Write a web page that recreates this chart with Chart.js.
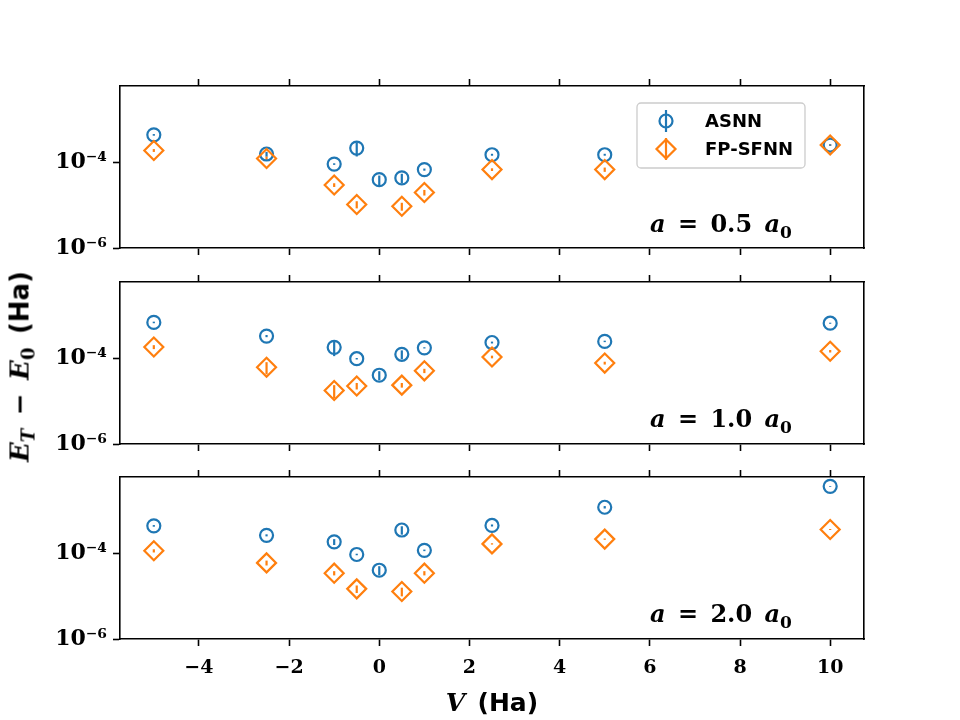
<!DOCTYPE html>
<html>
<head>
<meta charset="utf-8">
<script src="https://cdn.jsdelivr.net/npm/chart.js@4.4.1/dist/chart.umd.min.js"></script>
<style>
body { margin: 0; background: #fff; width: 960px; height: 720px; position: relative; overflow: hidden; }
.panel { position: absolute; left: 0; width: 960px; }
.note { position: absolute; left: 650px; font-family: "DejaVu Serif"; font-weight: bold; font-size: 24px; line-height: 30px; word-spacing: 4px; white-space: nowrap; color: #000; }
.note sub { font-size: 17px; vertical-align: -6px; font-style: normal; }
.xtitle { position: absolute; left: 120px; width: 744px; top: 688px; line-height: 30px; text-align: center; font-size: 25px; font-weight: bold; color: #000; word-spacing: 6px; }
.ytitle { position: absolute; left: -106px; top: 347px; width: 260px; line-height: 30px; text-align: center; font-size: 26px; font-weight: bold; color: #000; transform: rotate(-90deg); white-space: nowrap; word-spacing: 7px; }
.serif { font-family: "DejaVu Serif"; font-style: italic; }
.sans { font-family: "DejaVu Sans"; }
.ytitle sub { font-size: 18px; vertical-align: -6px; }
.ytitle sub.up { font-style: normal; }
</style>
</head>
<body>
<div class="panel" style="top:0;height:280px"><canvas id="c1"></canvas></div>
<div class="panel" style="top:260px;height:214px"><canvas id="c2"></canvas></div>
<div class="panel" style="top:455px;height:265px"><canvas id="c3"></canvas></div>

<div class="note" style="top:209px"><i>a</i> = 0.5 <i>a</i><sub>0</sub></div>
<div class="note" style="top:404px"><i>a</i> = 1.0 <i>a</i><sub>0</sub></div>
<div class="note" style="top:599px"><i>a</i> = 2.0 <i>a</i><sub>0</sub></div>

<div class="xtitle"><span class="serif">V</span> <span class="sans">(Ha)</span></div>
<div class="ytitle"><span class="serif">E<sub>T</sub></span> <span style="font-family:'DejaVu Serif'">−</span> <span class="serif">E<sub class="up">0</sub></span> <span class="sans">(Ha)</span></div>

<script>
// potential strengths V (Ha)
const vValues = [-5, -2.5, -1, -0.5, 0, 0.5, 1, 2.5, 5, 10];

// a = 0.5 a0
const asnnA05 = [4.5e-4, 1.6e-4, 9.3e-5, 2.2e-4, 4.0e-5, 4.4e-5, 6.9e-5, 1.54e-4, 1.54e-4, 2.6e-4];
const asnnA05Err = [2e-5, 2e-5, 4e-6, 8e-5, 1e-5, 1.1e-5, 4e-6, 8e-6, 8e-6, 1e-5];
const fpA05 = [1.94e-4, 1.26e-4, 3.0e-5, 1.05e-5, null, 9.5e-6, 2.0e-5, 6.9e-5, 6.9e-5, 2.6e-4];
const fpA05Err = [1.5e-5, 1.5e-5, 3e-6, 2e-6, null, 2e-6, 3e-6, 5e-6, 8e-6, 1e-5];

// a = 1.0 a0
const asnnA10 = [7.1e-4, 3.4e-4, 1.85e-4, 1.0e-4, 4.1e-5, 1.27e-4, 1.8e-4, 2.4e-4, 2.55e-4, 6.8e-4];
const asnnA10Err = [3e-5, 2e-5, 7e-5, 4e-6, 1e-5, 3e-5, 6e-6, 1.2e-5, 1e-5, 2e-5];
const fpA10 = [1.88e-4, 6.3e-5, 1.8e-5, 2.3e-5, null, 2.4e-5, 5.2e-5, 1.1e-4, 7.9e-5, 1.5e-4];
const fpA10Err = [2e-5, 2e-5, 6e-6, 4e-6, null, 3e-6, 6e-6, 8e-6, 6e-6, 1e-5];

// a = 2.0 a0
const asnnA20 = [4.5e-4, 2.7e-4, 1.9e-4, 9.6e-5, 4.1e-5, 3.6e-4, 1.2e-4, 4.6e-4, 1.23e-3, 3.8e-3];
const asnnA20Err = [2e-5, 1.5e-5, 3e-5, 4e-6, 1e-5, 8e-5, 5e-6, 2.5e-5, 8e-5, 8e-5];
const fpA20 = [1.17e-4, 6.1e-5, 3.5e-5, 1.5e-5, null, 1.3e-5, 3.5e-5, 1.7e-4, 2.2e-4, 3.7e-4];
const fpA20Err = [1e-5, 8e-6, 4e-6, 3e-6, null, 3e-6, 4e-6, 6e-6, 8e-6, 1e-5];

const xTicks = [-4, -2, 0, 2, 4, 6, 8, 10];
const xTickLabels = ['−4', '−2', '0', '2', '4', '6', '8', '10'];
const yTicks = [1e-6, 1e-4];
const yTickLabels = ['10⁻⁶', '10⁻⁴'];
const seriesNames = ['ASNN', 'FP-SFNN'];

const BLUE = '#1f77b4', ORANGE = '#ff7f0e';
const xTickFont = { family: 'DejaVu Serif', weight: 'bold', size: 19 };
const yTickFont = { family: 'DejaVu Serif', weight: 'bold', size: 22 };

// vertical error bars drawn through the y scale
const errorBars = {
  id: 'errorBars',
  beforeDatasetsDraw(chart) {
    const ctx = chart.ctx, ys = chart.scales.y;
    chart.data.datasets.forEach((ds, i) => {
      const meta = chart.getDatasetMeta(i);
      ctx.save();
      ctx.strokeStyle = ds.borderColor;
      ctx.lineWidth = 2.2;
      meta.data.forEach((pt, j) => {
        const v = ds.data[j].y, e = ds.errors[j];
        if (v == null || e == null || isNaN(pt.x)) return;
        ctx.beginPath();
        ctx.moveTo(pt.x, ys.getPixelForValue(Math.max(v - e, 1e-9)));
        ctx.lineTo(pt.x, ys.getPixelForValue(v + e));
        ctx.stroke();
      });
      ctx.restore();
    });
  }
};

// legend box inside the top panel
const insideLegend = {
  id: 'insideLegend',
  afterDraw(chart) {
    if (!chart.options.plugins.insideLegend || !chart.options.plugins.insideLegend.show) return;
    const ctx = chart.ctx, a = chart.chartArea;
    const L = a.right - 227, T = a.top + 17, W = 168, H = 65;
    ctx.save();
    ctx.beginPath();
    ctx.roundRect(L, T, W, H, 4);
    ctx.fillStyle = 'rgba(255,255,255,0.8)';
    ctx.fill();
    ctx.strokeStyle = '#cccccc';
    ctx.lineWidth = 1.3;
    ctx.stroke();
    const mx = L + 29;
    const rows = [T + 18, T + 46];
    ctx.lineWidth = 2.2;
    // ASNN
    ctx.strokeStyle = BLUE;
    ctx.beginPath(); ctx.arc(mx, rows[0], 6.5, 0, Math.PI * 2); ctx.stroke();
    ctx.beginPath(); ctx.moveTo(mx, rows[0] - 11); ctx.lineTo(mx, rows[0] + 11); ctx.stroke();
    // FP-SFNN
    ctx.strokeStyle = ORANGE;
    ctx.beginPath();
    ctx.moveTo(mx, rows[1] - 9.5); ctx.lineTo(mx + 9.5, rows[1]); ctx.lineTo(mx, rows[1] + 9.5); ctx.lineTo(mx - 9.5, rows[1]);
    ctx.closePath(); ctx.stroke();
    ctx.beginPath(); ctx.moveTo(mx, rows[1] - 11); ctx.lineTo(mx, rows[1] + 11); ctx.stroke();
    ctx.fillStyle = '#000';
    ctx.font = 'bold 18px "DejaVu Sans"';
    ctx.textBaseline = 'middle';
    ctx.fillText(seriesNames[0], L + 68, rows[0] + 1);
    ctx.fillText(seriesNames[1], L + 68, rows[1] + 1);
    ctx.restore();
  }
};

function makePanel(id, asnn, asnnErr, fp, fpErr, o) {
  const axisLine = { color: '#000', width: 1.6 };
  const xBase = {
    type: 'linear', min: -5.75, max: 10.75,
    afterBuildTicks: s => { s.ticks = xTicks.map(v => ({ value: v })); },
    grid: { drawOnChartArea: false, drawTicks: true, tickLength: 7, tickColor: '#000', tickWidth: 1.6 },
    border: axisLine
  };
  new Chart(document.getElementById(id), {
    type: 'scatter',
    data: {
      datasets: [
        {
          label: seriesNames[1], order: 0,
          data: vValues.map((v, i) => ({ x: v, y: fp[i] })), errors: fpErr,
          pointStyle: 'rectRot', pointRadius: 9.5, pointHoverRadius: 9.5, borderWidth: 2.2,
          borderColor: ORANGE, backgroundColor: 'rgba(0,0,0,0)'
        },
        {
          label: seriesNames[0], order: 1,
          data: vValues.map((v, i) => ({ x: v, y: asnn[i] })), errors: asnnErr,
          pointStyle: 'circle', pointRadius: 6.5, pointHoverRadius: 6.5, borderWidth: 2.2,
          borderColor: BLUE, backgroundColor: 'rgba(0,0,0,0)'
        }
      ]
    },
    options: {
      responsive: true, maintainAspectRatio: false, animation: false,
      layout: { padding: { top: o.padTop, left: 0, right: 0, bottom: 0 } },
      plugins: { legend: { display: false }, tooltip: { enabled: false }, insideLegend: { show: o.legend } },
      scales: {
        x: Object.assign({}, xBase, {
          position: 'bottom',
          ticks: { display: o.labels, font: xTickFont, color: '#000', padding: 11, maxRotation: 0,
                   callback: (v, i) => xTickLabels[i] },
          afterFit: s => { s.height = o.botH; }
        }),
        xTop: Object.assign({}, xBase, {
          position: 'top',
          ticks: { display: false },
          afterFit: s => { s.height = 7; }
        }),
        y: {
          type: 'logarithmic', position: 'left', min: 1e-6, max: 6.3e-3,
          afterBuildTicks: s => { s.ticks = yTicks.map(v => ({ value: v, major: true })); },
          ticks: { font: yTickFont, color: '#000', padding: 6, callback: (v, i) => yTickLabels[i] },
          grid: { drawOnChartArea: false, drawTicks: true, tickLength: 7, tickColor: '#000', tickWidth: 1.6 },
          border: axisLine,
          afterFit: s => { s.width = 120; }
        },
        yRight: {
          type: 'linear', position: 'right',
          ticks: { display: false },
          grid: { drawOnChartArea: false, drawTicks: false },
          border: axisLine,
          afterFit: s => { s.width = 96; }
        }
      }
    },
    plugins: [errorBars, insideLegend]
  });
}

makePanel('c1', asnnA05, asnnA05Err, fpA05, fpA05Err, { padTop: 79, botH: 32, labels: false, legend: true });
makePanel('c2', asnnA10, asnnA10Err, fpA10, fpA10Err, { padTop: 15, botH: 30, labels: false, legend: false });
makePanel('c3', asnnA20, asnnA20Err, fpA20, fpA20Err, { padTop: 15, botH: 81, labels: true, legend: false });
</script>
</body>
</html>
